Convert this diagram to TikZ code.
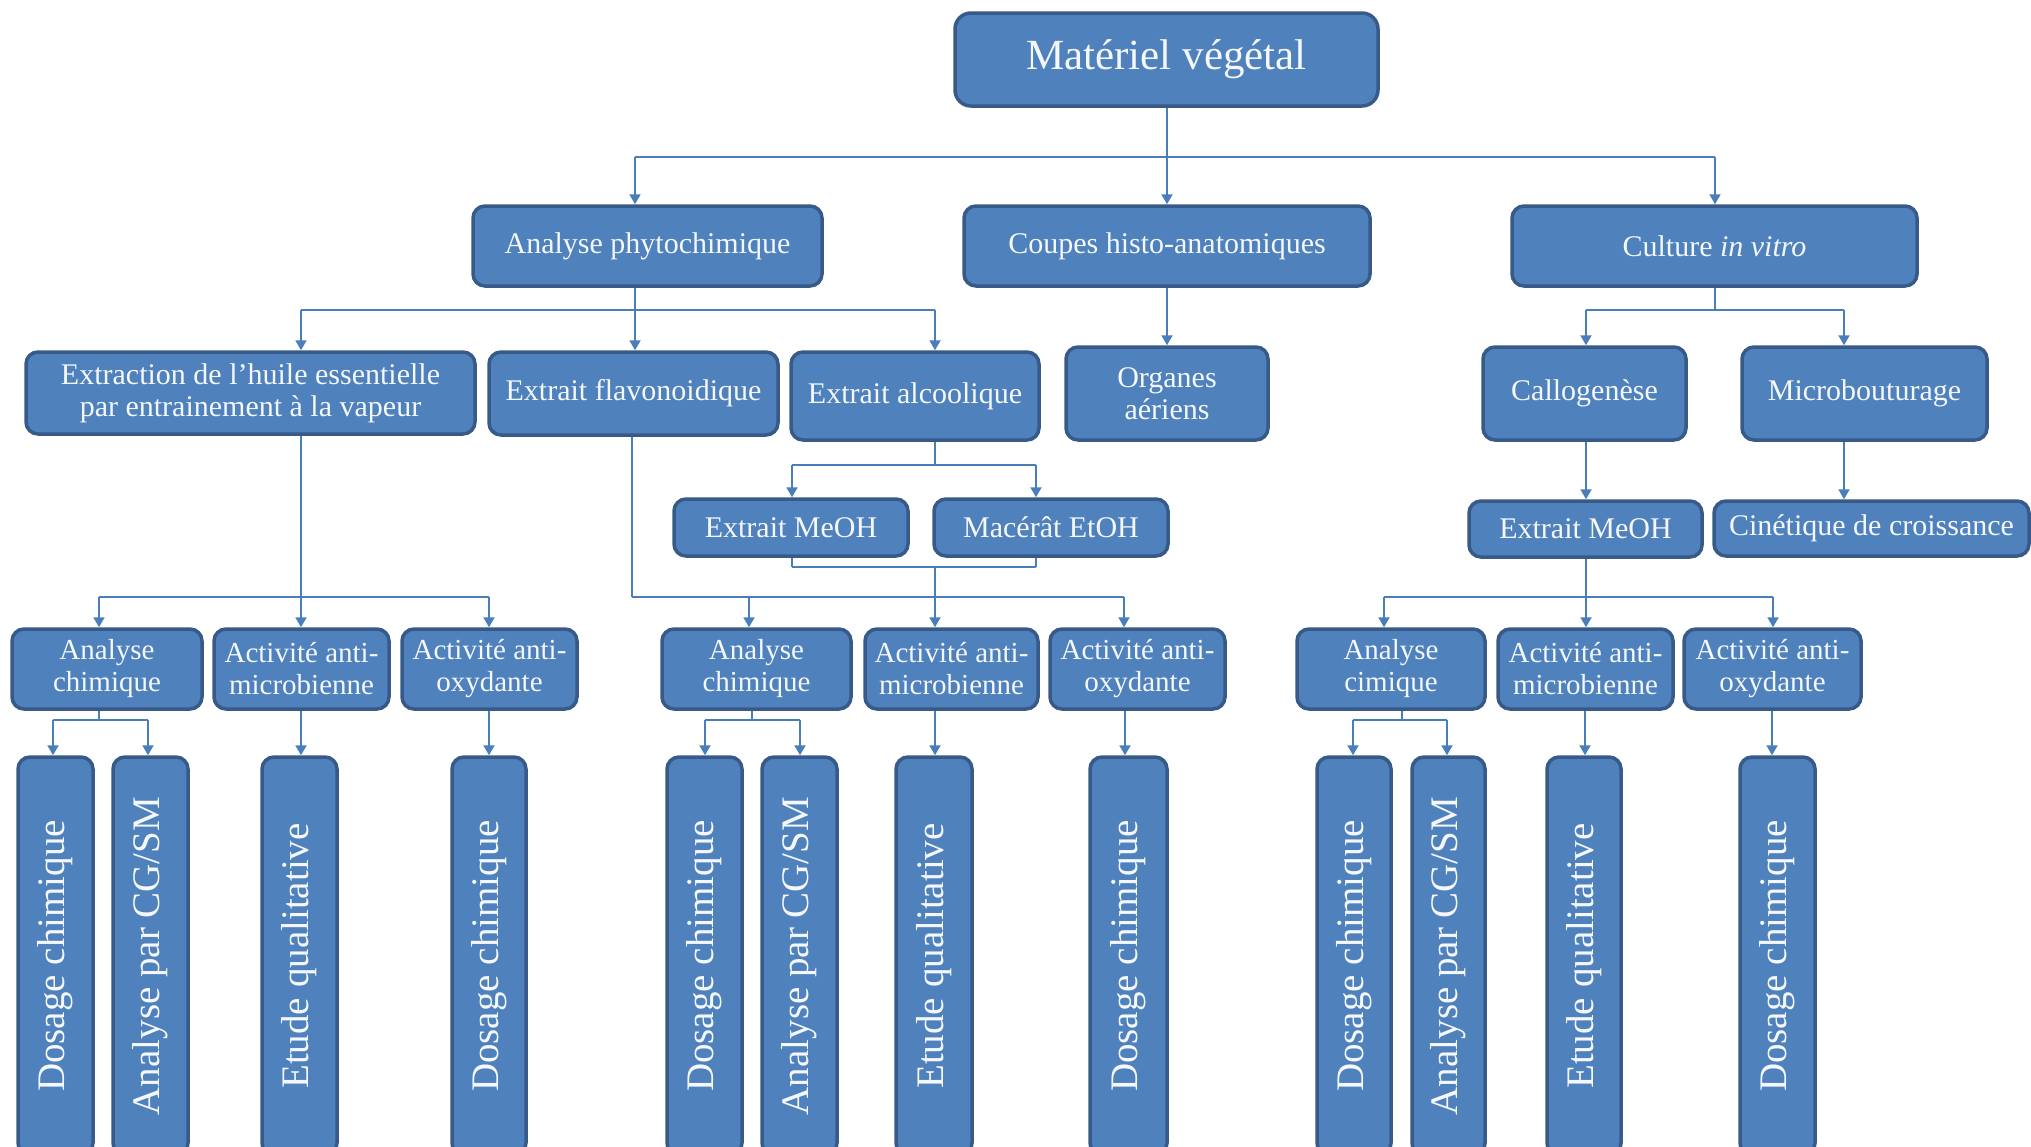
\documentclass[tikz,border=0pt]{standalone}
\usepackage{fontspec}
\usepackage{graphicx}
\setmainfont{Liberation Serif}
\usetikzlibrary{arrows.meta}
\definecolor{boxfill}{HTML}{4F81BD}
\definecolor{boxline}{HTML}{375A89}
\definecolor{conncol}{HTML}{4A7EBB}
\definecolor{txt}{HTML}{F4F7FC}
% style, name, x1, y1, x2, y2, text
\newcommand\bx[7]{\node[#1, minimum width={(#5)-(#3)}, minimum height={(#6)-(#4)}] (#2) at ({((#3)+(#5))/2},{((#4)+(#6))/2}) {#7};}
\newcommand\drop[3]{\draw[arr] (#2,#3) -- (#2,#3 |- #1.north);}
\newcommand\stem[3]{\draw[conn] (#2,#3 |- #1.south) -- (#2,#3);}
\newcommand\link[3]{\draw[arr] (#3,0 |- #1.south) -- (#3,0 |- #2.north);}
\newcommand\vt[1]{\rotatebox{90}{#1}}
\begin{document}
\begin{tikzpicture}[x=1pt,y=-1pt,
  box/.style={draw=boxline, line width=3.5pt, fill=boxfill, rounded corners=12pt, text=txt, align=center, inner sep=0pt, font=\fontsize{30}{32}\selectfont},
  big/.style={box, font=\fontsize{43}{48}\selectfont, rounded corners=16pt},
  sm/.style={box, font=\fontsize{29}{32}\selectfont},
  tall/.style={box, font=\fontsize{39}{44}\selectfont},
  conn/.style={draw=conncol, line width=2pt},
  arr/.style={conn, -{Triangle[width=11pt,length=10pt]}}]
\useasboundingbox (0,0) rectangle (2031,1146);
\fill[white] (0,0) rectangle (2031,1146);
\clip (0,0) rectangle (2031,1146);

% level 1
\bx{big}{mat}{955}{13}{1378}{106}{Matériel végétal}
% level 2
\bx{box}{ap}{473}{206}{822}{286}{Analyse phytochimique}
\bx{box}{ch}{964}{206}{1370}{286}{Coupes histo-anatomiques}
\bx{box}{cv}{1512}{206}{1917}{286}{Culture \textit{in vitro}}
% level 3
\bx{box}{ext}{26}{352}{475}{434}{Extraction de l’huile essentielle\\par entrainement à la vapeur}
\bx{box}{fla}{489}{352}{778}{435}{Extrait flavonoidique}
\bx{box}{alc}{791}{352}{1039}{440}{Extrait alcoolique}
\bx{box}{org}{1066}{347}{1268}{440}{Organes\\aériens}
\bx{box}{cal}{1483}{347}{1686}{440}{Callogenèse}
\bx{box}{mic}{1742}{347}{1987}{440}{Microbouturage}
% level 4
\bx{box}{meoA}{674}{499}{908}{556}{Extrait MeOH}
\bx{box}{mac}{934}{499}{1168}{556}{Macérât EtOH}
\bx{box}{meoB}{1469}{501}{1702}{557}{Extrait MeOH}
\bx{box}{cin}{1714}{501}{2029}{556}{Cinétique de croissance}
% level 5
\bx{sm}{acA}{12}{629}{202}{709}{Analyse\\chimique}
\bx{sm}{amA}{214}{629}{389}{709}{Activité anti-\\microbienne}
\bx{sm}{aoA}{402}{629}{577}{709}{Activité anti-\\oxydante}
\bx{sm}{acB}{662}{629}{851}{709}{Analyse\\chimique}
\bx{sm}{amB}{865}{629}{1038}{709}{Activité anti-\\microbienne}
\bx{sm}{aoB}{1050}{629}{1225}{709}{Activité anti-\\oxydante}
\bx{sm}{acC}{1297}{629}{1485}{709}{Analyse\\cimique}
\bx{sm}{amC}{1498}{629}{1673}{709}{Activité anti-\\microbienne}
\bx{sm}{aoC}{1684}{629}{1861}{709}{Activité anti-\\oxydante}
% level 6
\bx{tall}{dA}{18}{757}{93}{1155}{\vt{Dosage chimique}}
\bx{tall}{gA}{113}{757}{188}{1155}{\vt{Analyse par CG/SM}}
\bx{tall}{eA}{262}{757}{337}{1155}{\vt{Etude qualitative}}
\bx{tall}{dB}{452}{757}{526}{1155}{\vt{Dosage chimique}}
\bx{tall}{dC}{667}{757}{742}{1155}{\vt{Dosage chimique}}
\bx{tall}{gB}{762}{757}{837}{1155}{\vt{Analyse par CG/SM}}
\bx{tall}{eB}{896}{757}{972}{1155}{\vt{Etude qualitative}}
\bx{tall}{dD}{1090}{757}{1167}{1155}{\vt{Dosage chimique}}
\bx{tall}{dE}{1317}{757}{1391}{1155}{\vt{Dosage chimique}}
\bx{tall}{gC}{1412}{757}{1485}{1155}{\vt{Analyse par CG/SM}}
\bx{tall}{eC}{1547}{757}{1621}{1155}{\vt{Etude qualitative}}
\bx{tall}{dF}{1740}{757}{1815}{1155}{\vt{Dosage chimique}}

% connectors: level 1 -> 2
\stem{mat}{1167}{157}
\draw[conn] (635,157) -- (1715,157);
\drop{ap}{635}{157}
\drop{ch}{1167}{157}
\drop{cv}{1715}{157}
% level 2 -> 3
\stem{ap}{635}{310}
\draw[conn] (301,310) -- (935,310);
\drop{ext}{301}{310}
\drop{fla}{635}{310}
\drop{alc}{935}{310}
\link{ch}{org}{1167}
\stem{cv}{1715}{310}
\draw[conn] (1586,310) -- (1844,310);
\drop{cal}{1586}{310}
\drop{mic}{1844}{310}
% level 3 -> 4
\stem{alc}{935}{465}
\draw[conn] (792,465) -- (1036,465);
\drop{meoA}{792}{465}
\drop{mac}{1036}{465}
\link{cal}{meoB}{1586}
\link{mic}{cin}{1844}
% merge of the two extracts
\stem{meoA}{792}{567}
\stem{mac}{1036}{567}
\draw[conn] (792,567) -- (1036,567);
\draw[conn] (935,567) -- (935,597);
% flavonoid line
\stem{fla}{632}{597}
\draw[conn] (632,597) -- (1124,597);
\drop{acB}{749}{597}
\drop{amB}{935}{597}
\drop{aoB}{1124}{597}
% essential oil
\link{ext}{amA}{301}
\draw[conn] (99,597) -- (489,597);
\drop{acA}{99}{597}
\drop{aoA}{489}{597}
% in vitro extract
\link{meoB}{amC}{1586}
\draw[conn] (1384,597) -- (1773,597);
\drop{acC}{1384}{597}
\drop{aoC}{1773}{597}
% level 5 -> 6
\stem{acA}{99}{720}
\draw[conn] (53,720) -- (148,720);
\drop{dA}{53}{720}
\drop{gA}{148}{720}
\link{amA}{eA}{301}
\link{aoA}{dB}{489}
\stem{acB}{752}{720}
\draw[conn] (705,720) -- (800,720);
\drop{dC}{705}{720}
\drop{gB}{800}{720}
\link{amB}{eB}{935}
\link{aoB}{dD}{1125}
\stem{acC}{1402}{720}
\draw[conn] (1353,720) -- (1447,720);
\drop{dE}{1353}{720}
\drop{gC}{1447}{720}
\link{amC}{eC}{1585}
\link{aoC}{dF}{1772}
\end{tikzpicture}
\end{document}
